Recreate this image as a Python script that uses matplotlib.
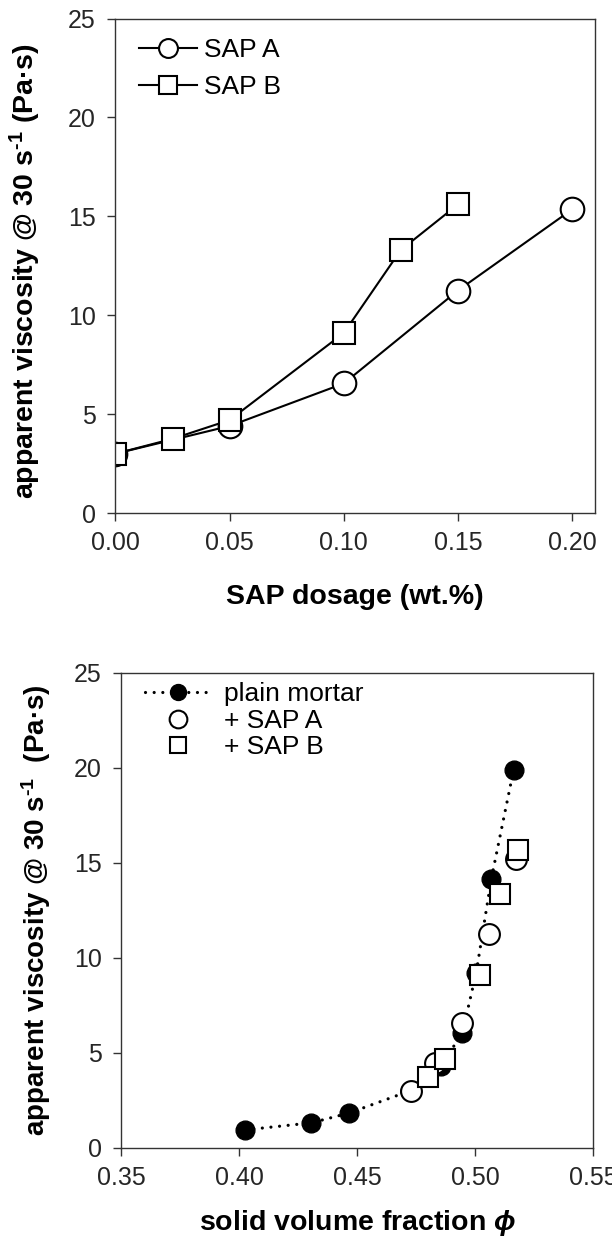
import matplotlib
matplotlib.use("Agg")
from matplotlib import pyplot as plt

plt.rcParams['font.family'] = ['Liberation Sans', 'DejaVu Sans']
plt.rcParams['mathtext.fontset'] = 'custom'
plt.rcParams['mathtext.rm'] = 'Liberation Sans'
plt.rcParams['mathtext.bf'] = 'Liberation Sans:bold'
plt.rcParams['mathtext.it'] = 'Liberation Sans:italic'
plt.rcParams['mathtext.bfit'] = 'Liberation Sans:italic:bold'
plt.rcParams['mathtext.fallback'] = 'stix'

# top chart: viscosity vs SAP dosage
dose_a = [0.0, 0.05, 0.10, 0.15, 0.20]
visc_a = [3.0, 4.4, 6.55, 11.25, 15.35]
dose_b = [0.0, 0.025, 0.05, 0.10, 0.125, 0.15]
visc_b = [3.0, 3.75, 4.7, 9.1, 13.3, 15.6]

# bottom chart: viscosity vs solid volume fraction
phi_plain = [0.4025, 0.4306, 0.4467, 0.4725, 0.4855, 0.4946, 0.5005, 0.5069, 0.5164]
visc_plain = [0.94, 1.31, 1.83, 3.0, 4.3, 6.03, 9.2, 14.14, 19.9]
phi_a = [0.4729, 0.4829, 0.4943, 0.5059, 0.5173]
visc_a2 = [2.97, 4.47, 6.55, 11.23, 15.18]
phi_b = [0.4801, 0.4874, 0.5022, 0.5107, 0.5181]
visc_b2 = [3.74, 4.68, 9.11, 13.35, 15.66]

tick_col = '#262626'
fig = plt.figure(figsize=(6.12, 12.38), dpi=100)
ax1 = fig.add_axes([0.1886, 0.5856, 0.7835, 0.3994])
ax2 = fig.add_axes([0.1982, 0.0729, 0.7706, 0.3838])


def style(ax):
    for s in ax.spines.values():
        s.set_linewidth(1.0)
        s.set_color('#333333')
    ax.tick_params(direction='out', length=6, width=1.0, color='#333333',
                   labelsize=18, labelcolor=tick_col)
    ax.tick_params(axis='x', pad=7)
    ax.tick_params(axis='y', pad=8)
    ax.set_ylim(0, 25)
    ax.set_yticks([0, 5, 10, 15, 20, 25])


ylab = r'apparent viscosity @ 30 s$^{\mathbf{‐1}}$'

ax1.plot(dose_a, visc_a, color='black', lw=1.5, marker='o', ms=17,
         mfc='white', mec='black', mew=1.5, label='SAP A')
ax1.plot(dose_b, visc_b, color='black', lw=1.5, marker='s', ms=16,
         mfc='white', mec='black', mew=1.5, label='SAP B')
style(ax1)
ax1.set_xlim(0, 0.21)
ax1.set_xticks([0.0, 0.05, 0.10, 0.15, 0.20])
ax1.set_xticklabels(['0.00', '0.05', '0.10', '0.15', '0.20'])
ax1.set_xlabel('SAP dosage (wt.%)', fontsize=20.5, fontweight='bold', labelpad=21)
ax1.set_ylabel(ylab + ' (Pa·s)', fontsize=20.5, fontweight='bold')
ax1.yaxis.set_label_coords(-0.15, 0.49)
ax1.legend(loc='upper left', bbox_to_anchor=(0.05, 0.96), frameon=False,
           fontsize=19, handlelength=2.2, handletextpad=0.25, labelspacing=0.47,
           borderpad=0, borderaxespad=0, markerscale=0.8)

ax2.plot(phi_plain, visc_plain, color='black', lw=2.3, ls=(0, (0.01, 2.7)),
         dash_capstyle='round', marker='o', ms=13.5, mfc='black', mec='black',
         label='plain mortar')
ax2.plot(phi_a, visc_a2, ls='none', marker='o', ms=15, mfc='white',
         mec='black', mew=1.5, label='+ SAP A')
ax2.plot(phi_b, visc_b2, ls='none', marker='s', ms=14, mfc='white',
         mec='black', mew=1.5, label='+ SAP B')
style(ax2)
ax2.set_xlim(0.35, 0.55)
ax2.set_xticks([0.35, 0.40, 0.45, 0.50, 0.55])
ax2.set_xticklabels(['0.35', '0.40', '0.45', '0.50', '0.55'])
ax2.set_xlabel(r'solid volume fraction $\mathbfit{ϕ}$', fontsize=20.5,
               fontweight='bold', labelpad=13)
ax2.set_ylabel(ylab + '  (Pa·s)', fontsize=20, fontweight='bold')
ax2.yaxis.set_label_coords(-0.145, 0.5)
ax2.legend(loc='upper left', bbox_to_anchor=(0.05, 0.98), frameon=False,
           fontsize=19, handlelength=2.5, handletextpad=0.5, labelspacing=0.1,
           borderpad=0, borderaxespad=0, numpoints=1, markerscale=0.85)

fig.savefig('out.png', dpi=100)
